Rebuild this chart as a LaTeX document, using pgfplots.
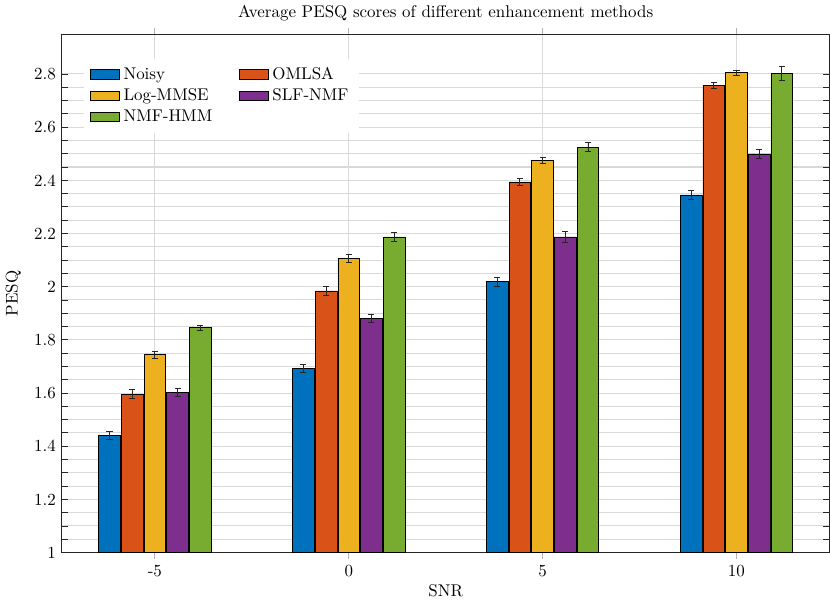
\documentclass[border=0pt]{standalone}
\usepackage{pgfplots}
\pgfplotsset{compat=1.18}
\definecolor{cNoisy}{rgb}{0,0.447,0.741}
\definecolor{cOMLSA}{rgb}{0.85,0.325,0.098}
\definecolor{cLog}{rgb}{0.929,0.694,0.125}
\definecolor{cSLF}{rgb}{0.494,0.184,0.556}
\definecolor{cNMF}{rgb}{0.466,0.674,0.188}
\definecolor{axc}{rgb}{0.15,0.15,0.15}
\definecolor{gridc}{rgb}{0.85,0.85,0.85}
\begin{document}
\begin{tikzpicture}
\begin{axis}[
  width=453pt, height=306pt, scale only axis,
  ybar, bar width=0.112, bar shift=0pt,
  xmin=-0.48, xmax=3.48,
  ymin=1, ymax=2.95,
  xtick={0,1,2,3}, xticklabels={-5,0,5,10},
  ytick={1,1.2,...,2.81},
  yticklabels={1,1.2,1.4,1.6,1.8,2,2.2,2.4,2.6,2.8},
  minor y tick num=3,
  xmajorgrids, ymajorgrids, yminorgrids,
  major grid style={gridc, line width=0.6pt},
  minor grid style={gridc, line width=0.6pt},
  axis line style={axc, line width=0.6pt},
  x tick style={gray!60, line width=0.5pt},
  y tick style={axc, line width=0.5pt},
  xtick align=outside, ytick align=inside,
  major tick length=3.8pt, minor tick length=3.8pt,
  xlabel={SNR}, ylabel={PESQ},
  title={Average PESQ scores of different enhancement methods},
  title style={yshift=-2pt},
  xlabel style={yshift=2pt},
  ylabel style={yshift=1pt},
  legend columns=2,
  legend cell align=left,
  legend style={at={(0.028,0.953)}, anchor=north west, draw=none, fill=white,
    /tikz/every even column/.append style={column sep=14pt},
    row sep=0pt, font=\normalsize, inner xsep=4pt, inner ysep=3pt},
  legend image code/.code={\draw[#1, draw=black] (0cm,-0.1cm) rectangle (0.6cm,0.1cm);},
  error bars/y dir=both, error bars/y explicit,
  error bars/error mark options={rotate=90, mark size=1.8pt, axc, line width=0.5pt},
  error bars/error bar style={axc, line width=0.5pt},
]
\addplot[fill=cNoisy, draw=black, line width=0.45pt] coordinates {
 (-0.234,1.440) +- (0,0.014)
 (0.766,1.693) +- (0,0.016)
 (1.766,2.018) +- (0,0.018)
 (2.766,2.345) +- (0,0.017)};
\addlegendentry{Noisy}
\addplot[fill=cOMLSA, draw=black, line width=0.45pt] coordinates {
 (-0.117,1.596) +- (0,0.018)
 (0.883,1.984) +- (0,0.016)
 (1.883,2.394) +- (0,0.013)
 (2.883,2.758) +- (0,0.011)};
\addlegendentry{OMLSA}
\addplot[fill=cLog, draw=black, line width=0.45pt] coordinates {
 (0,1.744) +- (0,0.013)
 (1,2.107) +- (0,0.014)
 (2,2.476) +- (0,0.011)
 (3,2.804) +- (0,0.010)};
\addlegendentry{Log-MMSE}
\addplot[fill=cSLF, draw=black, line width=0.45pt] coordinates {
 (0.117,1.602) +- (0,0.016)
 (1.117,1.880) +- (0,0.016)
 (2.117,2.187) +- (0,0.019)
 (3.117,2.499) +- (0,0.018)};
\addlegendentry{SLF-NMF}
\addplot[fill=cNMF, draw=black, line width=0.45pt] coordinates {
 (0.234,1.845) +- (0,0.011)
 (1.234,2.187) +- (0,0.016)
 (2.234,2.525) +- (0,0.018)
 (3.234,2.801) +- (0,0.027)};
\addlegendentry{NMF-HMM}
\end{axis}
\end{tikzpicture}
\end{document}
